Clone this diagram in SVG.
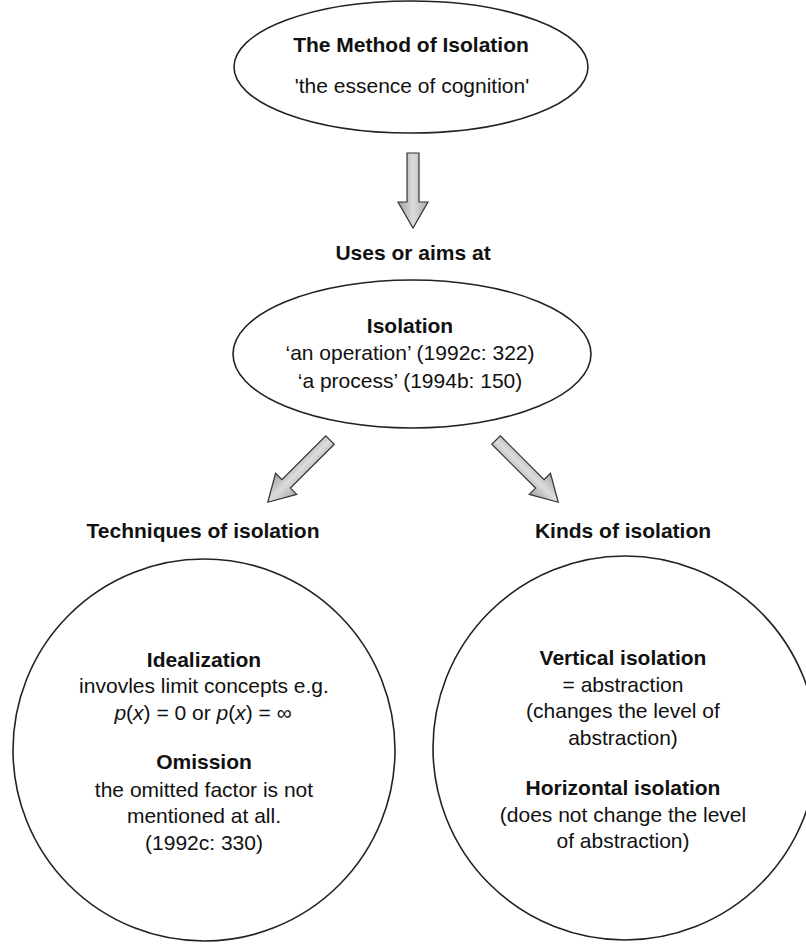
<svg xmlns="http://www.w3.org/2000/svg" width="806" height="944" viewBox="0 0 806 944">
<style>
.shape{fill:#fff;stroke:#222;stroke-width:1.6}
.t{font-family:"Liberation Sans",Arial,sans-serif;font-size:21px;fill:#111;text-anchor:middle}
.b{font-weight:bold}
.arrow{fill:url(#ag);stroke:#333;stroke-width:1.2;stroke-linejoin:miter}
</style>
<defs>
<linearGradient id="ag" x1="0" y1="0" x2="0" y2="1">
<stop offset="0" stop-color="#a8a8a8"/>
<stop offset="0.5" stop-color="#dcdcdc"/>
<stop offset="1" stop-color="#a0a0a0"/>
</linearGradient>
<path id="arr75" d="M0,-6 H49 V-15 L75,0 L49,15 V6 H0 Z"/>
<path id="arr88" d="M0,-6 H62 V-15 L88,0 L62,15 V6 H0 Z"/>
</defs>
<rect width="806" height="944" fill="#fff"/>

<g id="method">
<ellipse class="shape" cx="411" cy="67" rx="177" ry="66"/>
<text class="t b" x="411" y="52">The Method of Isolation</text>
<text class="t" x="412" y="93">'the essence of cognition'</text>
</g>

<g id="uses-label">
<text class="t b" x="413" y="260">Uses or aims at</text>
</g>

<g id="isolation">
<ellipse class="shape" cx="412" cy="354" rx="179" ry="74"/>
<text class="t b" x="410" y="333">Isolation</text>
<text class="t" x="410" y="360">‘an operation’ (1992c: 322)</text>
<text class="t" x="410" y="388">‘a process’ (1994b: 150)</text>
</g>

<g id="techniques">
<text class="t b" x="203" y="538">Techniques of isolation</text>
<circle class="shape" cx="204" cy="750" r="191"/>
<text class="t b" x="204" y="667">Idealization</text>
<text class="t" x="204" y="693">invovles limit concepts e.g.</text>
<text class="t" x="203" y="720"><tspan font-style="italic">p</tspan>(<tspan font-style="italic">x</tspan>) = 0 or <tspan font-style="italic">p</tspan>(<tspan font-style="italic">x</tspan>) = ∞</text>
<text class="t b" x="204" y="769">Omission</text>
<text class="t" x="204" y="797">the omitted factor is not</text>
<text class="t" x="204" y="823">mentioned at all.</text>
<text class="t" x="204" y="850">(1992c: 330)</text>
</g>

<g id="kinds">
<text class="t b" x="623" y="538">Kinds of isolation</text>
<circle class="shape" cx="625" cy="748" r="192"/>
<text class="t b" x="623" y="665">Vertical isolation</text>
<text class="t" x="623" y="692">= abstraction</text>
<text class="t" x="623" y="718">(changes the level of</text>
<text class="t" x="623" y="745">abstraction)</text>
<text class="t b" x="623" y="795">Horizontal isolation</text>
<text class="t" x="623" y="822">(does not change the level</text>
<text class="t" x="623" y="848">of abstraction)</text>
</g>

<g id="connectors">
<use href="#arr75" class="arrow" transform="translate(413,153) rotate(90)"/>
<use href="#arr88" class="arrow" transform="translate(330,440) rotate(135)"/>
<use href="#arr88" class="arrow" transform="translate(496,440) rotate(45)"/>
</g>
</svg>
